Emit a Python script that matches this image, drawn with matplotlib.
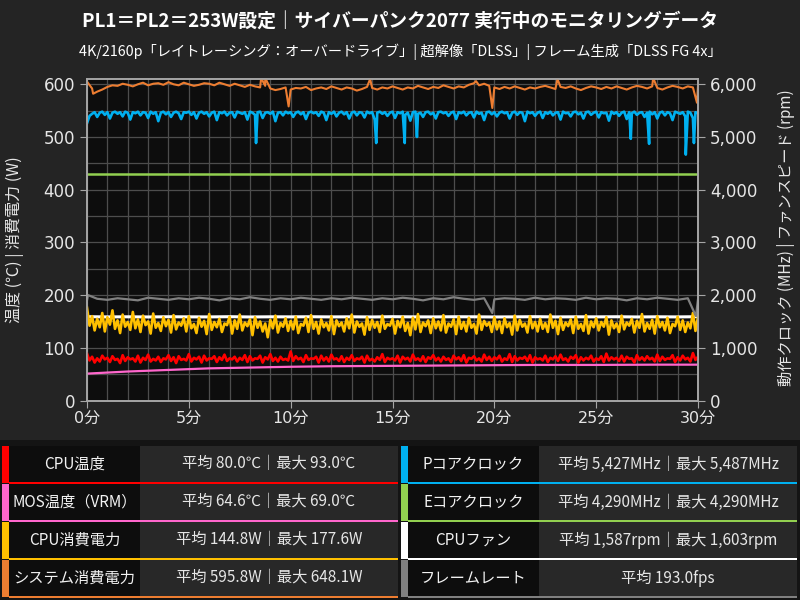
import matplotlib.pyplot as plt
import numpy as np
from matplotlib.patches import Rectangle
from matplotlib.ticker import MultipleLocator, FuncFormatter

plt.rcParams['font.family'] = ['Noto Sans CJK JP', 'DejaVu Sans']

# ---- data ----
# CPU power (W), every 7.5 s
cpu_power = [176, 142, 160, 133, 155, 139, 166, 131, 158, 144, 171, 136, 152, 128, 163, 140, 149, 134, 168, 137,
             154, 130, 161, 143, 150, 127, 165, 138, 147, 132, 158, 141, 153, 129, 162, 135, 148, 142, 156, 131,
             160, 137, 145, 128, 157, 140, 151, 126, 164, 134, 149, 139, 155, 130, 146, 143, 159, 127, 152, 136,
             163, 133, 148, 141, 154, 124, 158, 138, 150, 131, 146, 120, 153, 137, 161, 129, 147, 140, 156, 132,
             151, 135, 159, 128, 145, 142, 157, 130, 162, 136, 149, 127, 154, 139, 147, 133, 160, 126, 152, 141,
             148, 131, 156, 137, 163, 129, 150, 140, 146, 125, 158, 134, 153, 138, 149, 130, 161, 136, 145, 142,
             155, 127, 151, 139, 159, 132, 147, 124, 157, 135, 164, 130, 148, 141, 152, 128, 156, 137, 150, 133,
             162, 129, 146, 140, 154, 126, 159, 136, 149, 131, 157, 138, 145, 127, 163, 134, 151, 142, 148, 130,
             158, 135, 150, 128, 156, 139, 147, 125, 161, 133, 153, 140, 146, 129, 160, 137, 149, 131, 155, 136,
             147, 130, 163, 138, 151, 126, 157, 134, 148, 141, 154, 128, 159, 136, 145, 132, 162, 127, 150, 139,
             156, 133, 149, 140, 158, 125, 152, 137, 146, 130, 161, 135, 148, 142, 155, 129, 151, 138, 164, 131,
             147, 136, 153, 127, 160, 139, 149, 133, 157, 128, 145, 141, 159, 134, 152, 130, 148, 137, 166, 132,
             158]

# CPU temperature (C), every 7.5 s
cpu_temp = [89, 76, 83, 72, 80, 74, 85, 78, 81, 73, 84, 77, 79, 71, 86, 75, 82, 78, 80, 74,
            85, 72, 81, 77, 87, 74, 79, 76, 83, 73, 80, 78, 86, 75, 82, 71, 84, 77, 79, 76,
            88, 74, 81, 78, 83, 72, 85, 76, 80, 79, 84, 73, 82, 77, 87, 75, 80, 78, 83, 74,
            81, 77, 86, 73, 84, 76, 80, 79, 85, 72, 82, 78, 88, 75, 81, 74, 83, 77, 79, 76,
            93, 75, 84, 78, 81, 73, 86, 77, 80, 79, 83, 72, 85, 76, 82, 74, 87, 78, 80, 75,
            84, 73, 81, 77, 86, 75, 80, 78, 83, 72, 85, 76, 79, 74, 82, 77, 88, 73, 81, 78,
            80, 76, 85, 72, 83, 78, 81, 74, 87, 77, 80, 75, 84, 73, 82, 79, 86, 76, 81, 74,
            83, 77, 80, 73, 85, 78, 82, 75, 86, 72, 81, 79, 84, 76, 80, 74, 87, 77, 83, 75,
            82, 78, 85, 74, 80, 77, 88, 73, 84, 76, 81, 79, 83, 75, 86, 72, 82, 78, 80, 76,
            85, 73, 81, 78, 84, 75, 87, 77, 80, 74, 83, 79, 86, 72, 82, 76, 81, 78, 85, 74,
            80, 77, 84, 73, 89, 76, 82, 78, 81, 75, 85, 74, 83, 79, 80, 72, 86, 77, 82, 76,
            84, 78, 81, 74, 87, 75, 83, 77, 80, 79, 86, 73, 82, 76, 85, 78, 81, 74, 90, 77,
            83]

# P-core clock (MHz), every 7.5 s, plus short dips
pcore = [5260, 5400, 5440, 5470, 5380, 5460, 5480, 5420, 5470, 5350, 5460, 5480, 5440, 5470, 5390, 5480, 5460, 5330, 5470, 5450,
         5480, 5410, 5470, 5460, 5360, 5480, 5440, 5470, 5300, 5460, 5480, 5430, 5470, 5380, 5460, 5480, 5450, 5340, 5470, 5460,
         5480, 5420, 5470, 5350, 5460, 5480, 5440, 5470, 5390, 5460, 5480, 5320, 5470, 5450, 5480, 5410, 5460, 5470, 5370, 5480,
         5460, 5440, 5470, 5330, 5480, 5460, 5420, 5470, 5480, 5360, 5460, 5470, 5440, 5480, 5300, 5460, 5470, 5410, 5480, 5450,
         5470, 5380, 5460, 5480, 5430, 5470, 5340, 5460, 5480, 5450, 5470, 5400, 5480, 5460, 5320, 5470, 5440, 5480, 5390, 5460,
         5480, 5430, 5470, 5350, 5460, 5480, 5410, 5470, 5460, 5370, 5480, 5450, 5470, 5330, 5460, 5480, 5440, 5470, 5400, 5460,
         5480, 5360, 5470, 5450, 5480, 5420, 5460, 5310, 5470, 5480, 5440, 5460, 5380, 5470, 5480, 5430, 5460, 5350, 5470, 5480,
         5450, 5470, 5400, 5460, 5480, 5340, 5470, 5450, 5480, 5410, 5460, 5470, 5370, 5480, 5440, 5460, 5320, 5470, 5480, 5430,
         5470, 5390, 5460, 5480, 5450, 5470, 5350, 5460, 5480, 5420, 5470, 5460, 5300, 5480, 5450, 5470, 5400, 5460, 5480, 5360,
         5470, 5440, 5480, 5410, 5460, 5470, 5330, 5480, 5450, 5460, 5390, 5470, 5480, 5430, 5460, 5350, 5470, 5480, 5420, 5460,
         5480, 5370, 5470, 5450, 5460, 5310, 5480, 5440, 5470, 5400, 5460, 5480, 5340, 5470, 5450, 5480, 5420, 5460, 5470, 5380,
         5460, 5480, 5430, 5470, 5350, 5460, 5480, 5410, 5470, 5450, 5320, 5480, 5460, 5440, 5470, 5390, 5480, 5460, 5360, 5470,
         5450]
pcore_dip_t = [8.3, 14.2, 15.6, 16.2, 26.7, 27.6, 29.4, 29.8]
pcore_dip_v = [4885, 4885, 4885, 5000, 4965, 4870, 4665, 4885]

# system power (W), every 15 s, plus spikes
sys_power = [605, 592, 586, 590, 595, 598, 597, 601, 599, 596, 600, 603, 598, 601, 602, 599, 604, 600, 598, 603,
             600, 597, 599, 602, 601, 598, 603, 600, 597, 601,
             598, 595, 599, 596, 594, 597, 592, 589, 591, 594,
             590, 593, 592, 595, 589, 592, 594, 591, 596, 593,
             590, 594, 592, 588, 591, 595, 593, 590, 594, 592,
             596, 593, 590, 594, 592, 597, 594, 591, 595, 593,
             598, 595, 592, 596, 594, 599, 602, 598, 601, 597,
             594, 591, 595, 592, 596, 593, 590, 594, 592, 595,
             597, 594, 591, 595, 593, 596, 592, 589, 593, 596,
             594, 591, 595, 592, 596, 593, 590, 594, 597, 595,
             592, 596, 593, 590, 594, 597, 595, 592, 596, 594,
             597]
sys_spike_t = [0.3, 8.55, 8.75, 9.9, 13.9, 19.1, 19.9, 23.1, 27.8, 29.95]
sys_spike_v = [582, 612, 612, 558, 610, 606, 555, 610, 612, 565]

# frame rate (fps), every 30 s, plus dips
fps = [190, 193, 191, 194, 192, 190, 195, 193, 191, 194,
       192, 195, 193, 190, 194, 192, 196, 193, 191, 194,
       192, 195, 193, 191, 194, 192, 195, 193, 191, 194,
       192, 195, 193, 190, 194, 192, 196, 193, 191, 194,
       192, 194, 193, 191, 195, 192, 194, 193, 191, 195,
       192, 194, 193, 190, 194, 192, 195, 193, 191, 194,
       192]
fps_spike_t = [0.05, 19.9, 29.9]
fps_spike_v = [200, 166, 160]

# CPU fan (rpm), every 60 s
fan = [1590, 1586, 1588, 1585, 1589, 1587, 1586, 1590, 1585, 1588,
       1587, 1589, 1586, 1588, 1585, 1590, 1587, 1586, 1589, 1588,
       1585, 1587, 1590, 1586, 1588, 1587, 1589, 1585, 1588, 1586,
       1590]

# MOS temperature (C)
mos_t = [0, 1, 2, 3, 4, 5, 6, 8, 10, 12, 14, 16, 18, 20, 22, 25, 28, 30]
mos_v = [51, 53, 55, 56.5, 58, 59.5, 61, 62.5, 64, 65, 65.5, 66, 66.5, 67, 67.5, 67.5, 68, 68]

# E-core clock (MHz)
ecore_t = [0, 30]
ecore_v = [4290, 4290]

# legend table
labels_l = ["CPU温度", "MOS温度（VRM）", "CPU消費電力", "システム消費電力"]
values_l = ["平均 80.0℃｜最大 93.0℃", "平均 64.6℃｜最大 69.0℃",
            "平均 144.8W｜最大 177.6W", "平均 595.8W｜最大 648.1W"]
colors_l = ["#ff0000", "#ff66cc", "#ffc000", "#ed7d31"]
labels_r = ["Pコアクロック", "Eコアクロック", "CPUファン", "フレームレート"]
values_r = ["平均 5,427MHz｜最大 5,487MHz", "平均 4,290MHz｜最大 4,290MHz",
            "平均 1,587rpm｜最大 1,603rpm", "平均 193.0fps"]
colors_r = ["#00b0f0", "#92d050", "#ffffff", "#808080"]


def with_events(t, v, et, ev):
    tt = np.concatenate([t, et])
    vv = np.concatenate([v, ev])
    order = np.argsort(tt, kind="stable")
    return tt[order], vv[order]


def grid_t(vals):
    return np.linspace(0, 30, len(vals))


BG = "#242424"
fig = plt.figure(figsize=(8, 6), dpi=100, facecolor=BG)

# clock / fan axis (primary, ticks on right)
ax = fig.add_axes([87 / 800, 1 - 400.5 / 600, 611 / 800, 321.5 / 600])
ax.set_facecolor("#0d0d0d")
# temperature / power axis (drawn on top, ticks on left)
ax2 = ax.twinx()

t_pc, v_pc = with_events(grid_t(pcore), np.array(pcore, float), pcore_dip_t, pcore_dip_v)
ax.plot(t_pc, v_pc, color="#00b0f0", lw=1.9)
ax.plot(ecore_t, ecore_v, color="#92d050", lw=1.8)
ax.plot(grid_t(fan), fan, color="#ffffff", lw=2.2)

ax2.plot(mos_t, mos_v, color="#ff66cc", lw=1.6)
ax2.plot(grid_t(cpu_temp), cpu_temp, color="#ff0000", lw=1.9)
ax2.plot(grid_t(cpu_power), cpu_power, color="#ffc000", lw=1.9)
t_fp, v_fp = with_events(grid_t(fps), np.array(fps, float), fps_spike_t, fps_spike_v)
ax2.plot(t_fp, v_fp, color="#808080", lw=1.6)
t_sp, v_sp = with_events(grid_t(sys_power), np.array(sys_power, float), sys_spike_t, sys_spike_v)
ax2.plot(t_sp, v_sp, color="#ed7d31", lw=1.5)

ax.set_xlim(0, 30)
ax.set_ylim(0, 6100)
ax2.set_ylim(0, 610)

ax.yaxis.tick_right()
ax.yaxis.set_label_position("right")
ax2.yaxis.tick_left()
ax2.yaxis.set_label_position("left")

ax.xaxis.set_major_locator(MultipleLocator(5))
ax.xaxis.set_minor_locator(MultipleLocator(1))
ax.yaxis.set_major_locator(MultipleLocator(1000))
ax.yaxis.set_minor_locator(MultipleLocator(500))
ax2.yaxis.set_major_locator(MultipleLocator(100))
ax.xaxis.set_major_formatter(FuncFormatter(lambda v, p: f"{int(v)}分"))
ax.yaxis.set_major_formatter(FuncFormatter(lambda v, p: f"{int(v):,}"))

ax.grid(True, which="both", color="#4d4d4d", lw=0.9)
ax.set_axisbelow(True)

tick_font = ['DejaVu Sans', 'Noto Sans CJK JP']
for a in (ax, ax2):
    for s in a.spines.values():
        s.set_color("#a6a6a6")
        s.set_linewidth(1.2)
    a.tick_params(which="major", colors="#a6a6a6", length=5, labelcolor="#e6e6e6", labelsize=12)
    a.tick_params(which="minor", length=0)
    for lab in a.get_xticklabels() + a.get_yticklabels():
        lab.set_family(tick_font)
ax.tick_params(axis="x", labelsize=11.5)
ax2.tick_params(axis="x", which="both", length=0)

fig.text(15 / 800, 1 - 240 / 600, "温度 (℃) | 消費電力 (W)", rotation=90,
         ha="center", va="center", color="#e6e6e6", fontsize=11.5)
fig.text(786 / 800, 1 - 238 / 600, "動作クロック (MHz) | ファンスピード (rpm)", rotation=90,
         ha="center", va="center", color="#e6e6e6", fontsize=11)

fig.text(0.5, 1 - 22 / 600, "PL1＝PL2＝253W設定｜サイバーパンク2077 実行中のモニタリングデータ",
         ha="center", va="center", color="#ffffff", fontsize=13.5, fontweight="bold")
fig.text(0.5, 1 - 52 / 600, "4K/2160p「レイトレーシング：オーバードライブ」| 超解像「DLSS」| フレーム生成「DLSS FG 4x」",
         ha="center", va="center", color="#ffffff", fontsize=10.3)


# ---- legend table ----
def rect(x, y, w, h, c):
    fig.patches.append(Rectangle((x / 800, 1 - (y + h) / 600), w / 800, h / 600,
                                 transform=fig.transFigure, color=c, lw=0))


rect(0, 440, 800, 160, "#141414")
row_h = 38
top = 446
for side, (labels, values, colors) in enumerate([(labels_l, values_l, colors_l),
                                                 (labels_r, values_r, colors_r)]):
    x0 = 2 if side == 0 else 401
    lab_w = 131
    val_w = 258
    for i in range(4):
        y = top + i * row_h
        rect(x0, y, 7, row_h - 1, colors[i])
        rect(x0 + 7, y, lab_w, row_h - 2, "#0d0d0d")
        rect(x0 + 7 + lab_w, y, val_w, row_h - 2, "#282828")
        rect(x0 + 7, y + row_h - 2.5, lab_w + val_w, 2.5, colors[i])
        yc = 1 - (y + row_h / 2 - 1) / 600
        fig.text((x0 + 7 + lab_w / 2) / 800, yc, labels[i], ha="center", va="center",
                 color="#f2f2f2", fontsize=11)
        fig.text((x0 + 7 + lab_w + val_w / 2) / 800, yc, values[i], ha="center", va="center",
                 color="#e6e6e6", fontsize=11)

fig.savefig("out.png", dpi=100, facecolor=BG)
